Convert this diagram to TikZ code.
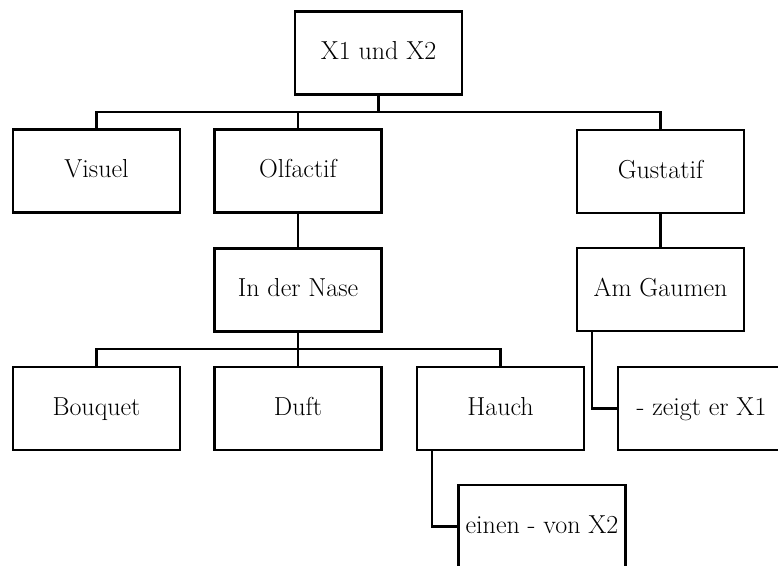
\documentclass[tikz,border=0pt]{standalone}
\usepackage{fontspec}
\setmainfont{Latin Modern Roman}
\begin{document}
\begin{tikzpicture}[x=1pt,y=-1pt,
  box/.style={draw,line width=2.3pt,minimum width=167pt,minimum height=83pt,inner sep=0pt,
    text height=18pt,text depth=5pt,
    font=\fontsize{26}{30}\selectfont},
  conn/.style={line width=2.3pt}]
\useasboundingbox (0,0) rectangle (778,565);
\clip (0,0) rectangle (778,565);
\node[box] (top) at (378.5,53) {X1 und X2};
\node[box] (vis) at (96.5,171) {Visuel};
\node[box] (olf) at (298,171) {Olfactif};
\node[box] (gus) at (660.5,171.5) {Gustatif};
\node[box] (nase) at (298,290) {In der Nase};
\node[box] (gaum) at (660.5,289.5) {Am Gaumen};
\node[box] (bouq) at (96.5,408.5) {Bouquet};
\node[box] (duft) at (298,408.5) {Duft};
\node[box] (hauch) at (500.5,408.5) {Hauch};
\node[box] (zeigt) at (701.5,408.5) {- zeigt er X1};
\node[box] (einen) at (542,526.5) {einen - von X2};
\coordinate (bus1) at (0,112);
\coordinate (bus2) at (0,349);
\draw[conn] (top.south) -- (top.south |- bus1) -| (vis.north);
\draw[conn] (top.south |- bus1) -| (olf.north);
\draw[conn] (top.south |- bus1) -| (gus.north);
\draw[conn] (olf.south) -- (nase.north);
\draw[conn] (gus.south) -- (gaum.north);
\draw[conn] (nase.south) -- (nase.south |- bus2) -| (bouq.north);
\draw[conn] (nase.south |- bus2) -| (duft.north);
\draw[conn] (nase.south |- bus2) -| (hauch.north);
\draw[conn] ([xshift=16pt]gaum.south west) |- (zeigt.west);
\draw[conn] ([xshift=16pt]hauch.south west) |- (einen.west);
\end{tikzpicture}
\end{document}
